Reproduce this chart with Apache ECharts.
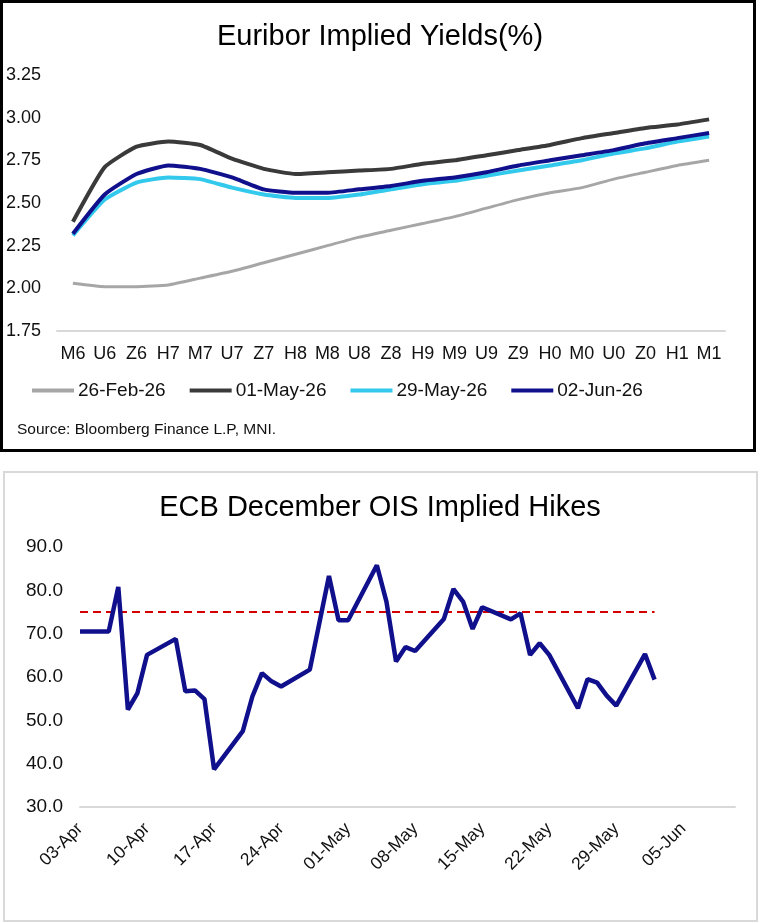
<!DOCTYPE html>
<html>
<head>
<meta charset="utf-8">
<script src="https://cdn.jsdelivr.net/npm/echarts@6/dist/echarts.min.js"></script>
<style>
  html, body { margin: 0; padding: 0; background: #fff; }
  #chart { width: 760px; height: 923px; }
</style>
</head>
<body>
<div id="chart"></div>
<script>
// top panel: euribor strip
var contracts = ['M6', 'U6', 'Z6', 'H7', 'M7', 'U7', 'Z7', 'H8', 'M8', 'U8', 'Z8',
    'H9', 'M9', 'U9', 'Z9', 'H0', 'M0', 'U0', 'Z0', 'H1', 'M1'];
var feb26 = [2.03, 2.01, 2.01, 2.02, 2.06, 2.10, 2.15, 2.20, 2.25, 2.30, 2.34,
    2.38, 2.42, 2.47, 2.52, 2.56, 2.59, 2.64, 2.68, 2.72, 2.75];
var may01 = [2.39, 2.71, 2.83, 2.86, 2.84, 2.76, 2.70, 2.67, 2.68, 2.69, 2.70,
    2.73, 2.75, 2.78, 2.81, 2.84, 2.88, 2.91, 2.94, 2.96, 2.99];
var may29 = [2.31, 2.52, 2.62, 2.65, 2.64, 2.59, 2.55, 2.53, 2.53, 2.55, 2.58,
    2.61, 2.63, 2.66, 2.69, 2.72, 2.75, 2.79, 2.82, 2.86, 2.89];
var jun02 = [2.32, 2.55, 2.67, 2.72, 2.70, 2.65, 2.58, 2.56, 2.56, 2.58, 2.60,
    2.63, 2.65, 2.68, 2.72, 2.75, 2.78, 2.81, 2.85, 2.88, 2.91];
var yieldTicks = [1.75, 2.00, 2.25, 2.50, 2.75, 3.00, 3.25];

// bottom panel: ECB Dec OIS implied hikes (bp)
var oisDates = ['2026-04-03', '2026-04-06', '2026-04-07', '2026-04-08', '2026-04-09', '2026-04-10',
    '2026-04-13', '2026-04-14', '2026-04-15', '2026-04-16', '2026-04-17',
    '2026-04-20', '2026-04-21', '2026-04-22', '2026-04-23', '2026-04-24',
    '2026-04-27', '2026-04-29', '2026-04-30', '2026-05-01',
    '2026-05-04', '2026-05-05', '2026-05-06', '2026-05-07', '2026-05-08',
    '2026-05-11', '2026-05-12', '2026-05-13', '2026-05-14', '2026-05-15',
    '2026-05-18', '2026-05-19', '2026-05-20', '2026-05-21', '2026-05-22',
    '2026-05-25', '2026-05-26', '2026-05-27', '2026-05-28', '2026-05-29',
    '2026-06-01', '2026-06-02'];
var oisHikes = [70.5, 70.5, 80.8, 52.5, 56.3, 65.1,
    68.8, 56.7, 56.9, 54.9, 38.7,
    47.5, 55.5, 60.9, 59.0, 57.8,
    61.7, 83.3, 73.1, 73.1,
    85.8, 77.4, 63.6, 66.9, 66.0,
    73.4, 80.3, 77.4, 71.1, 76.1,
    73.3, 74.7, 65.1, 67.8, 65.1,
    52.8, 59.5, 58.7, 55.7, 53.4,
    65.3, 59.4];
var threeHikes = 75;

var DAY = 86400000;
var start = Date.parse(oisDates[0]);
var months = ['Jan', 'Feb', 'Mar', 'Apr', 'May', 'Jun', 'Jul', 'Aug', 'Sep', 'Oct', 'Nov', 'Dec'];
function dayNo(s) { return Math.round((Date.parse(s) - start) / DAY); }
function dayLabel(v) {
    var d = new Date(start + v * DAY);
    var dd = d.getUTCDate();
    return (dd < 10 ? '0' : '') + dd + '-' + months[d.getUTCMonth()];
}

var oisLine = [], refLine = [];
for (var i = 0; i < oisDates.length; i++) {
    oisLine.push([dayNo(oisDates[i]), oisHikes[i]]);
    refLine.push([dayNo(oisDates[i]), threeHikes]);
}

var font = 'Arial, "Liberation Sans", sans-serif';
var txt = '#111';

var chart = echarts.init(document.getElementById('chart'));

var topLine = function (name, data, color, width) {
    return {
        name: name, type: 'line', data: data,
        xAxisIndex: 0, yAxisIndex: 0,
        symbol: 'none', smooth: 0.15,
        lineStyle: {color: color, width: width},
        itemStyle: {color: color}
    };
};

option = {
    animation: false,
    backgroundColor: '#fff',
    title: [{
        text: 'Euribor Implied Yields(%)',
        left: 'center', top: 17,
        textStyle: {fontFamily: font, fontSize: 29, fontWeight: 'normal', color: '#000'}
    }, {
        text: 'ECB December OIS Implied Hikes',
        left: 'center', top: 488,
        textStyle: {fontFamily: font, fontSize: 29, fontWeight: 'normal', color: '#000'}
    }],
    legend: {
        data: ['26-Feb-26', '01-May-26', '29-May-26', '02-Jun-26'],
        left: 32, top: 381, padding: 0,
        icon: 'rect', itemWidth: 42, itemHeight: 4, itemGap: 24,
        textStyle: {fontFamily: font, fontSize: 19, color: txt, padding: [0, 0, 0, -1]}
    },
    graphic: [
        {type: 'rect', shape: {x: 1.5, y: 1.5, width: 753, height: 449},
            style: {fill: 'none', stroke: '#000', lineWidth: 3}},
        {type: 'rect', shape: {x: 4, y: 472, width: 753, height: 449},
            style: {fill: 'none', stroke: '#d9d9d9', lineWidth: 2}},
        {type: 'text', left: 17, top: 422,
            style: {text: 'Source: Bloomberg Finance L.P, MNI.', font: '15.5px ' + font, fill: txt}}
    ],
    grid: [
        {left: 57, right: 35, top: 75, height: 256},
        {left: 80, right: 25, top: 547, height: 260}
    ],
    xAxis: [{
        gridIndex: 0, type: 'category', data: contracts, boundaryGap: true,
        axisLine: {lineStyle: {color: '#d9d9d9', width: 2}},
        axisTick: {show: false},
        axisLabel: {fontFamily: font, fontSize: 18, color: txt, margin: 14, interval: 0}
    }, {
        gridIndex: 1, type: 'value', min: 0, max: 68.4, interval: 7,
        axisLine: {lineStyle: {color: '#d9d9d9', width: 2}},
        axisTick: {show: false},
        splitLine: {show: false},
        axisLabel: {
            fontFamily: font, fontSize: 17.5, color: txt, rotate: 45, margin: 19,
            showMaxLabel: false, formatter: dayLabel
        }
    }],
    yAxis: [{
        gridIndex: 0, type: 'value', min: yieldTicks[0], max: yieldTicks[yieldTicks.length - 1],
        interval: 0.25,
        axisLine: {show: false}, axisTick: {show: false}, splitLine: {show: false},
        axisLabel: {
            fontFamily: font, fontSize: 18, color: txt, margin: 16,
            formatter: function (v) { return v.toFixed(2); }
        }
    }, {
        gridIndex: 1, type: 'value', min: 30, max: 90, interval: 10,
        axisLine: {show: false}, axisTick: {show: false}, splitLine: {show: false},
        axisLabel: {
            fontFamily: font, fontSize: 19, color: txt, margin: 17,
            formatter: function (v) { return v.toFixed(1); }
        }
    }],
    series: [
        topLine('26-Feb-26', feb26, '#a6a6a6', 3),
        topLine('01-May-26', may01, '#3a3a3a', 4),
        topLine('29-May-26', may29, '#33c9ec', 4),
        topLine('02-Jun-26', jun02, '#10108c', 4),
        {
            name: 'Implied hikes', type: 'line', data: oisLine,
            xAxisIndex: 1, yAxisIndex: 1, symbol: 'none',
            lineStyle: {color: '#10108c', width: 4.5}, z: 3
        },
        {
            name: '75bp', type: 'line', data: refLine,
            xAxisIndex: 1, yAxisIndex: 1, symbol: 'none',
            lineStyle: {color: '#d40000', width: 2, type: [8, 5]}, z: 2
        }
    ]
};

if (option && typeof option === "object") {
    chart.setOption(option, true);
}
</script>
</body>
</html>
